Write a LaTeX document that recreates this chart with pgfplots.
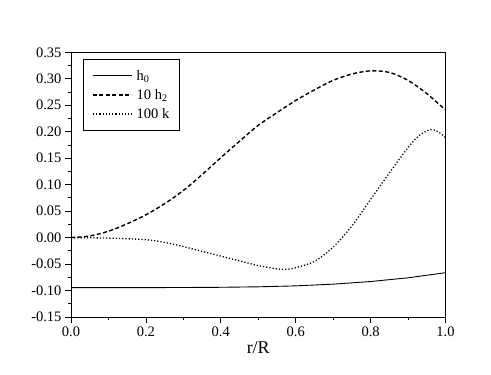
\documentclass[border=0pt]{standalone}
\usepackage{fontspec}
\setmainfont{Liberation Serif}
\usepackage{pgfplots}
\pgfplotsset{compat=1.18}

\begin{document}
\begin{tikzpicture}
\begin{axis}[
    scale only axis,
    width=374.5pt, height=264.7pt,
    xmin=0, xmax=1, ymin=-0.15, ymax=0.35,
    xtick={0,0.2,0.4,0.6,0.8,1.0},
    ytick={-0.15,-0.10,-0.05,0,0.05,0.10,0.15,0.20,0.25,0.30,0.35},
    minor x tick num=1, minor y tick num=1,
    xtick pos=bottom, ytick pos=left,
    tick align=outside,
    major tick length=6pt, minor tick length=3pt,
    axis line style={line width=0.8pt},
    every tick/.style={line width=0.8pt, black},
    /pgf/number format/assume math mode=true,
    xticklabel style={/pgf/number format/.cd, fixed, fixed zerofill, precision=1},
    yticklabel style={/pgf/number format/.cd, fixed, fixed zerofill, precision=2},
    tick label style={font=\fontsize{14.5}{16}\selectfont},
    xlabel={r/R},
    xlabel style={font=\fontsize{18}{20}\selectfont, yshift=2pt},
    legend style={at={(0.033,0.974)}, anchor=north west, draw=black,
        line width=0.8pt, nodes={font=\fontsize{14.5}{16}\selectfont},
        row sep=3.5pt, inner xsep=8.5pt, inner ysep=8.5pt},
    legend cell align=left,
    legend image code/.code={\draw[#1] (0pt,0pt) -- (39pt,0pt); \path (41pt,0pt);},
    clip=false,
]
\addplot[black, line width=0.9pt] coordinates {
    (0,-0.0946)(0.1,-0.0946)(0.2,-0.0945)(0.3,-0.0943)(0.4,-0.0939)(0.5,-0.0930)
    (0.6,-0.0912)(0.7,-0.0880)(0.8,-0.0830)(0.9,-0.0760)(1.0,-0.0663)
};
\addlegendentry{h\textsubscript{0}}
\addplot[black, line width=1.4pt, dash pattern=on 4pt off 2.5pt, smooth] coordinates {
    (0,0)(0.05,0.003)(0.1,0.012)(0.15,0.026)(0.2,0.043)(0.25,0.064)(0.3,0.089)
    (0.35,0.119)(0.4,0.151)(0.45,0.182)(0.5,0.212)(0.55,0.236)(0.6,0.259)
    (0.65,0.279)(0.7,0.297)(0.75,0.309)(0.8,0.315)(0.85,0.312)(0.9,0.297)
    (0.95,0.272)(1.0,0.241)
};
\addlegendentry{10 h\textsubscript{2}}
\addplot[black, line width=1.3pt, dash pattern=on 1.2pt off 2pt, smooth] coordinates {
    (0,0)(0.1,-0.001)(0.2,-0.004)(0.25,-0.009)(0.3,-0.017)(0.35,-0.026)
    (0.4,-0.035)(0.45,-0.044)(0.5,-0.053)(0.55,-0.059)(0.575,-0.060)(0.6,-0.057)
    (0.65,-0.045)(0.7,-0.018)(0.75,0.022)(0.8,0.072)(0.85,0.122)(0.9,0.170)
    (0.93,0.193)(0.96,0.204)(0.98,0.200)(1.0,0.189)
};
\addlegendentry{100 k}
\path (rel axis cs:-0.1896,-0.2191) rectangle (rel axis cs:1.1215,1.1976);
\end{axis}
\end{tikzpicture}
\end{document}
